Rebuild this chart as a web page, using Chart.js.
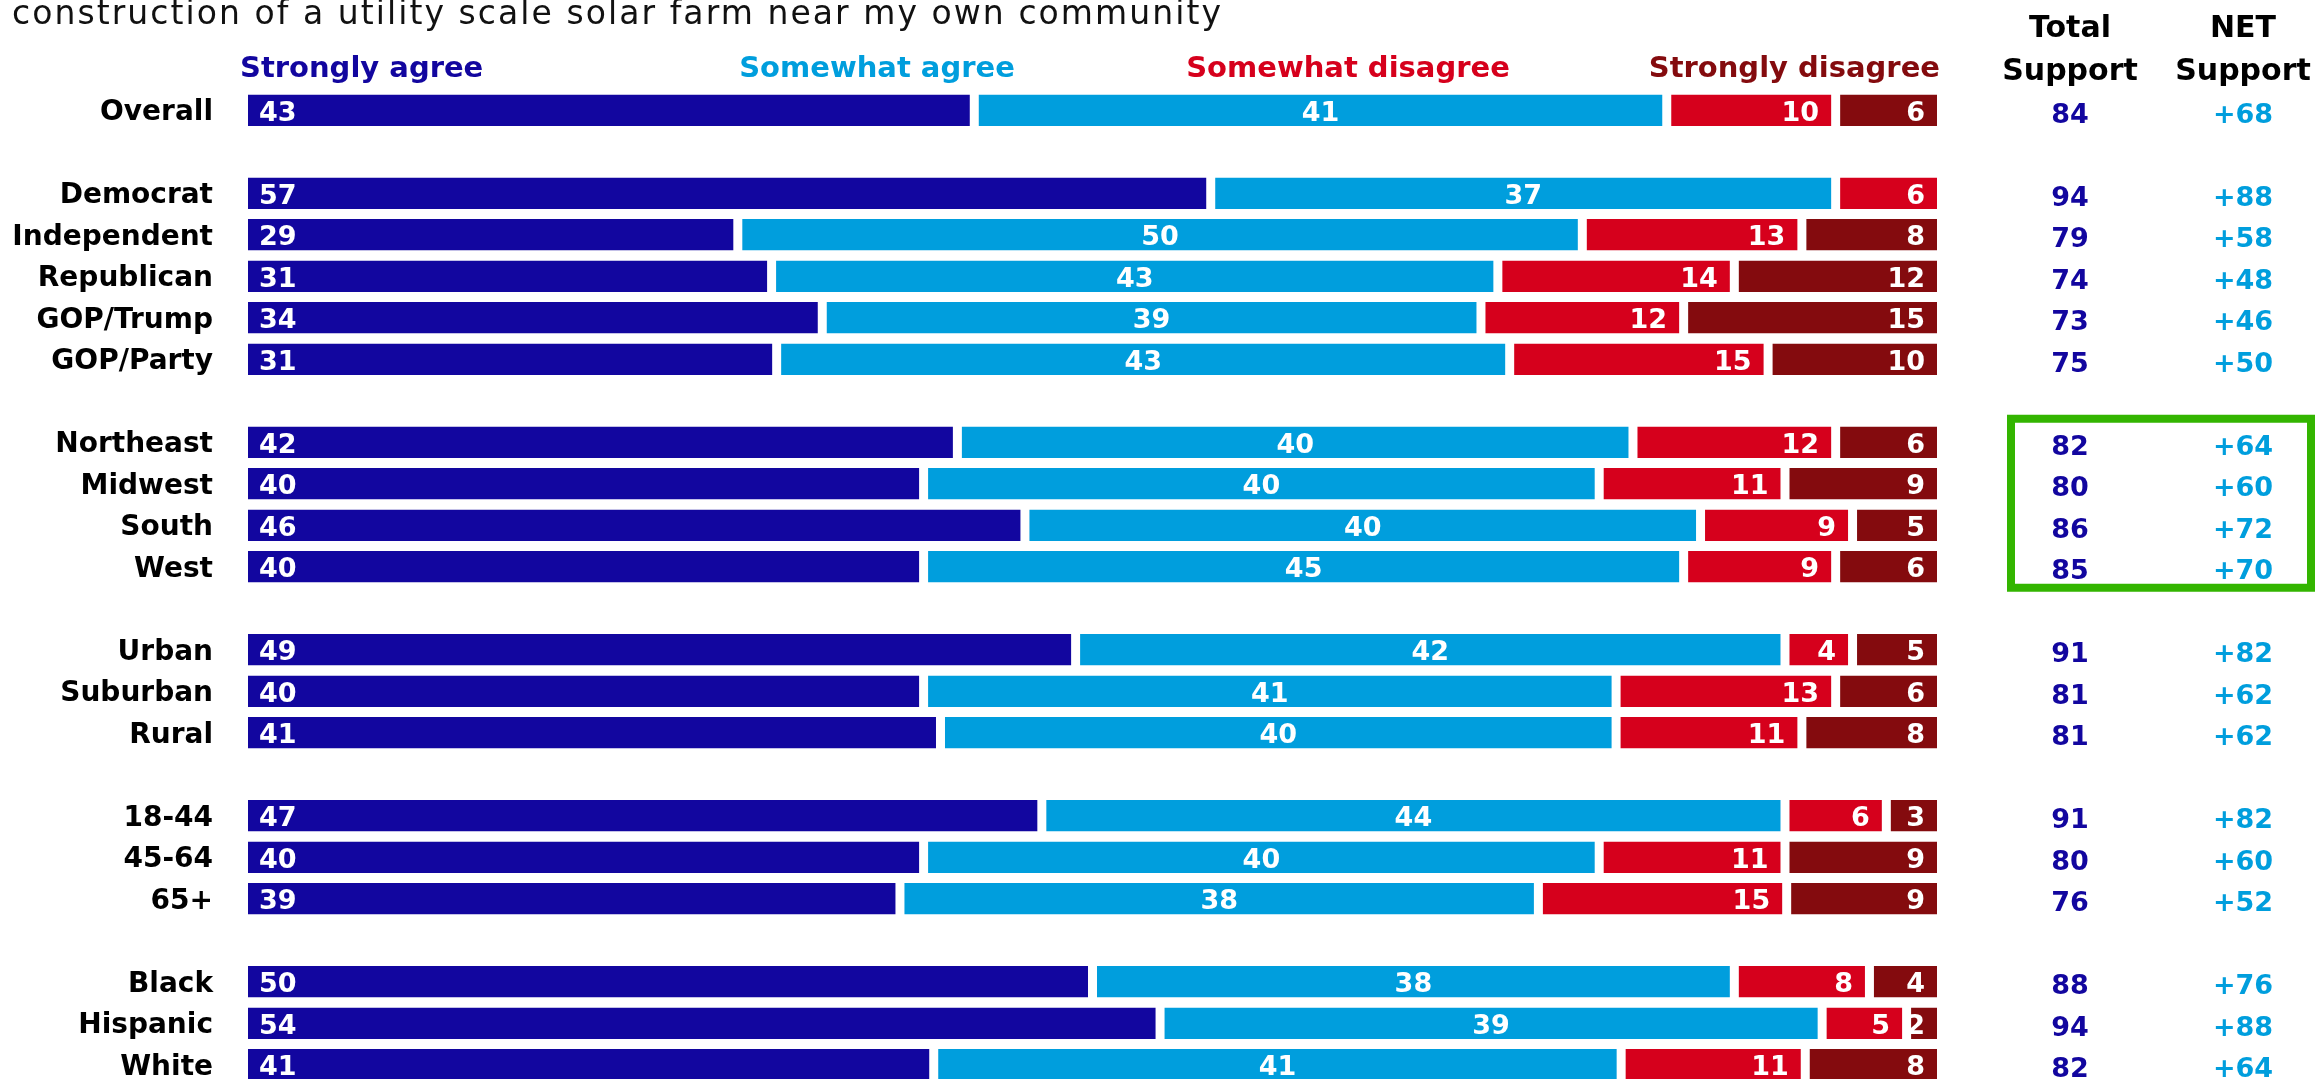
<!DOCTYPE html>
<html>
<head>
<meta charset="utf-8">
<script src="https://cdn.jsdelivr.net/npm/chart.js@4.4.1/dist/chart.umd.min.js"></script>
<style>
  html, body { margin: 0; padding: 0; background: #ffffff; overflow: hidden; }
  #wrap { position: relative; width: 2318px; height: 1079px; overflow: hidden; }
  canvas { display: block; }
</style>
</head>
<body>
<div id="wrap"><canvas id="c" width="2318" height="1100"></canvas></div>
<script>
// ---------------- DATA ----------------
const titleText = 'construction of a utility scale solar farm near my own community';
const categories = ['Overall', '', 'Democrat', 'Independent', 'Republican', 'GOP/Trump', 'GOP/Party', '',
  'Northeast', 'Midwest', 'South', 'West', '', 'Urban', 'Suburban', 'Rural', '',
  '18-44', '45-64', '65+', '', 'Black', 'Hispanic', 'White'];
const seriesNames = ['Strongly agree', 'Somewhat agree', 'Somewhat disagree', 'Strongly disagree'];
const stronglyAgree    = [43, null, 57, 29, 31, 34, 31.3, null, 42, 40, 46, 40, null, 49, 40, 41, null, 47, 40, 38.6, null, 50, 54, 40.6];
const somewhatAgree    = [41, null, 37, 50, 43, 39, 43.4, null, 40, 40, 40, 45, null, 42, 41, 40, null, 44, 40, 37.8, null, 38, 39.2, 40.7];
const somewhatDisagree = [10, null, 6, 13, 14, 12, 15.3, null, 12, 11, 9, 9, null, 4, 13, 11, null, 6, 11, 14.7, null, 8, 5, 10.9];
const stronglyDisagree = [6, null, null, 8, 12, 15, 10, null, 6, 9, 5, 6, null, 5, 6, 8, null, 3, 9, 8.9, null, 4, 1.8, 7.8];
const totalSupport = [84, null, 94, 79, 74, 73, 75, null, 82, 80, 86, 85, null, 91, 81, 81, null, 91, 80, 76, null, 88, 94, 82];
const netSupport   = [68, null, 88, 58, 48, 46, 50, null, 64, 60, 72, 70, null, 82, 62, 62, null, 82, 60, 52, null, 76, 88, 64];
const columnHeaders = [['Total', 'Support'], ['NET', 'Support']];
const highlightedRows = ['Northeast', 'West'];

// ---------------- STYLE ----------------
const series = [stronglyAgree, somewhatAgree, somewhatDisagree, stronglyDisagree];
const COLORS = ['#12069F', '#009EDD', '#D6001C', '#840B0E'];
const GREEN = '#33B500';
const GAP = 4.5;
const FONT = '"DejaVu Sans", "Liberation Sans", sans-serif';

function lastSeg(i) {
  let l = -1;
  series.forEach((s, k) => { if (s[i] != null && s[i] > 0) l = k; });
  return l;
}

const overlay = {
  id: 'overlay',
  afterDatasetsDraw(chart) {
    const ctx = chart.ctx;
    const ys = chart.scales.y;
    ctx.save();

    // values inside the bars
    ctx.fillStyle = '#ffffff';
    ctx.font = 'bold 27px ' + FONT;
    ctx.textBaseline = 'alphabetic';
    chart.data.datasets.forEach((ds, di) => {
      const meta = chart.getDatasetMeta(di);
      meta.data.forEach((el, i) => {
        const v = ds.data[i];
        if (v == null || v <= 0) return;
        const p = el.getProps(['x', 'y', 'base'], true);
        const left = p.base + (di === 0 ? 0 : GAP);
        const right = p.x - (di === lastSeg(i) ? 0 : GAP);
        const txt = String(Math.round(v));
        const yb = p.y + 10.5;
        if (di === 0) { ctx.textAlign = 'left'; ctx.fillText(txt, left + 11, yb); }
        else if (di === 1) { ctx.textAlign = 'center'; ctx.fillText(txt, (left + right) / 2, yb); }
        else { ctx.textAlign = 'right'; ctx.fillText(txt, right - 12, yb); }
      });
    });

    // total / net columns
    ctx.font = 'bold 27px ' + FONT;
    ctx.textAlign = 'center';
    categories.forEach((c, i) => {
      const y = ys.getPixelForValue(i) + 12.3;
      if (totalSupport[i] != null) {
        ctx.fillStyle = COLORS[0];
        ctx.fillText(String(totalSupport[i]), 2070, y);
      }
      if (netSupport[i] != null) {
        ctx.fillStyle = COLORS[1];
        ctx.fillText((netSupport[i] > 0 ? '+' : '') + netSupport[i], 2243, y);
      }
    });
    ctx.restore();
  },
  afterDraw(chart) {
    const ctx = chart.ctx;
    const ys = chart.scales.y;
    ctx.save();
    // title (partially out of frame in the reference)
    ctx.fillStyle = '#111111';
    ctx.font = '33px ' + FONT;
    ctx.textAlign = 'left';
    ctx.textBaseline = 'alphabetic';
    const natural = ctx.measureText(titleText).width;
    const sp = Math.max(0, (1211 - natural) / titleText.length);
    if ('letterSpacing' in ctx) ctx.letterSpacing = sp.toFixed(2) + 'px';
    ctx.fillText(titleText, 12, 24);
    if ('letterSpacing' in ctx) ctx.letterSpacing = '0px';

    // series headers
    ctx.font = 'bold 29px ' + FONT;
    const hdr = [[240, 'left'], [877, 'center'], [1348, 'center'], [1940, 'right']];
    seriesNames.forEach((n, k) => {
      ctx.fillStyle = COLORS[k];
      ctx.textAlign = hdr[k][1];
      ctx.fillText(n, hdr[k][0], 77);
    });

    // column headers
    ctx.font = 'bold 30px ' + FONT;
    ctx.fillStyle = '#000000';
    ctx.textAlign = 'center';
    const colX = [2070, 2243];
    columnHeaders.forEach((h, k) => {
      ctx.fillText(h[0], colX[k], 37);
      ctx.fillText(h[1], colX[k], 80);
    });

    // highlight box around the region rows
    const r0 = categories.indexOf(highlightedRows[0]);
    const r1 = categories.indexOf(highlightedRows[1]);
    const top = ys.getPixelForValue(r0) - 23.5;
    const bot = ys.getPixelForValue(r1) + 21;
    ctx.strokeStyle = GREEN;
    ctx.lineWidth = 8;
    ctx.strokeRect(2011, top, 300, bot - top);
    ctx.restore();
  }
};

Chart.defaults.font.family = FONT;

new Chart(document.getElementById('c'), {
  type: 'bar',
  data: {
    labels: categories,
    datasets: series.map((s, k) => ({
      label: seriesNames[k],
      data: s,
      backgroundColor: COLORS[k],
      borderColor: '#ffffff',
      borderSkipped: false,
      borderWidth: (ctx) => {
        if (ctx.dataIndex == null) return 0;
        const l = lastSeg(ctx.dataIndex);
        return { top: 0, bottom: 0, left: k === 0 ? 0 : GAP, right: k === l ? 0 : GAP };
      },
      barPercentage: 0.76,
      categoryPercentage: 1.0,
      stack: 'a'
    }))
  },
  options: {
    indexAxis: 'y',
    responsive: false,
    maintainAspectRatio: false,
    devicePixelRatio: 1,
    animation: false,
    layout: { padding: { top: 89.5, bottom: 14.5, left: 0, right: 381 } },
    plugins: { legend: { display: false }, tooltip: { enabled: false }, title: { display: false } },
    scales: {
      x: { stacked: true, min: 0, max: 100, display: false },
      y: {
        stacked: true,
        grid: { display: false, drawTicks: false },
        border: { display: false },
        ticks: {
          autoSkip: false,
          padding: 35,
          labelOffset: 2.5,
          color: '#000000',
          font: { family: FONT, weight: 'bold', size: 28 }
        },
        afterFit: (scale) => { scale.width = 248; scale.paddingTop = 0; scale.paddingBottom = 0; }
      }
    }
  },
  plugins: [overlay]
});
</script>
</body>
</html>
